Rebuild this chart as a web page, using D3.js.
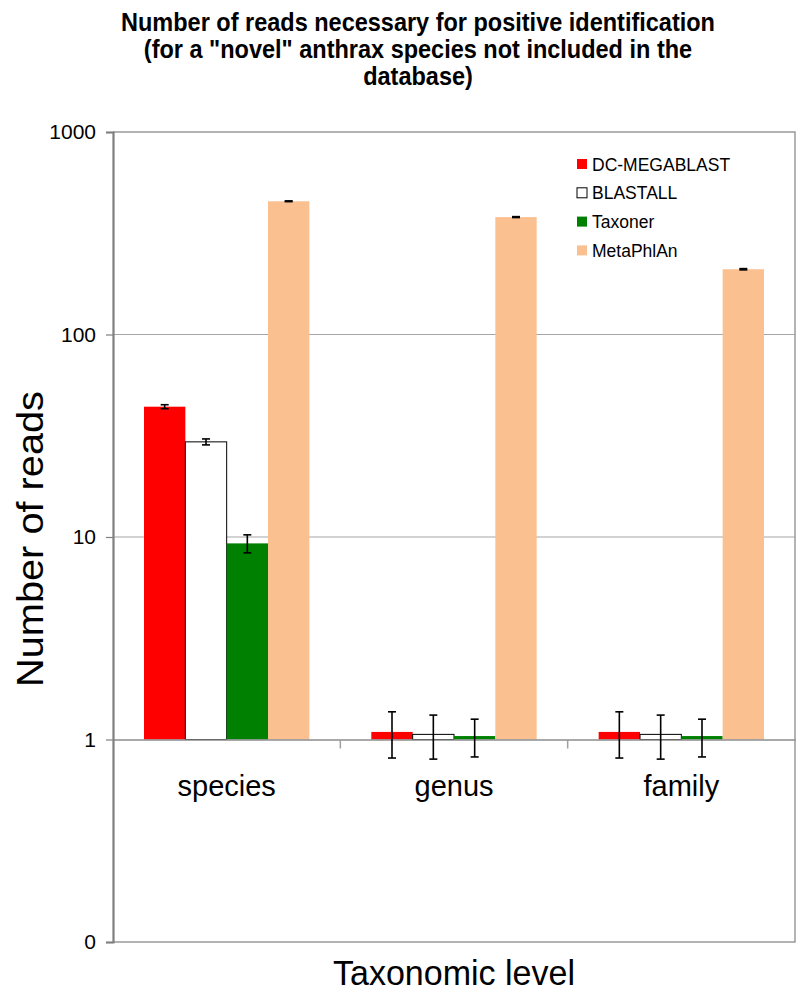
<!DOCTYPE html>
<html>
<head>
<meta charset="utf-8">
<script src="https://cdn.jsdelivr.net/npm/d3@7"></script>
<style>
  html, body { margin: 0; padding: 0; background: #ffffff; }
  svg { display: block; }
</style>
</head>
<body>
<svg id="chart" width="797" height="998"></svg>
<script>
// ---- data ----
const titleLines = [
  "Number of reads necessary for positive identification",
  "(for a \"novel\" anthrax species not included in the",
  "database)"
];
const categories = ["species", "genus", "family"];
const seriesNames = ["DC-MEGABLAST", "BLASTALL", "Taxoner", "MetaPhlAn"];
const dcMegablast = [44, 1.09, 1.09];
const dcMegablastErr = [1.0, 0.28, 0.28];
const blastall = [29.5, 1.06, 1.06];
const blastallErr = [1.0, 0.26, 0.26];
const taxoner = [9.3, 1.04, 1.04];
const taxonerErr = [0.95, 0.22, 0.22];
const metaphlan = [455, 380, 210];
const metaphlanErr = [2, 2, 1.5];
const yTickValues = [0.1, 1, 10, 100, 1000];
const yTickLabels = ["0", "1", "10", "100", "1000"];
const seriesColors = ["#ff0000", "#ffffff", "#008000", "#fac090"];
const yTitle = "Number of reads";
const xTitle = "Taxonomic level";

// ---- layout ----
const svg = d3.select("#chart");
const plot = { left: 113, right: 795, top: 132, bottom: 942 };
const FONT = "Liberation Sans, Arial, sans-serif";

const y = d3.scaleLog().domain([0.1, 1000]).range([plot.bottom, plot.top]);
const x0 = d3.scaleBand().domain(categories).range([plot.left, plot.right]).paddingInner(0).paddingOuter(0);
const x1 = d3.scaleBand().domain(seriesNames).range([0, x0.bandwidth()]).paddingInner(0).paddingOuter(0.75);

const values = [dcMegablast, blastall, taxoner, metaphlan];
const errors = [dcMegablastErr, blastallErr, taxonerErr, metaphlanErr];
const rows = [];
seriesNames.forEach((s, si) => {
  categories.forEach((c, ci) => {
    rows.push({ series: s, si, cat: c, v: values[si][ci], e: errors[si][ci] });
  });
});

// gridlines
svg.append("g").selectAll("line")
  .data([10, 100])
  .join("line")
  .attr("x1", plot.left).attr("x2", plot.right)
  .attr("y1", d => y(d)).attr("y2", d => y(d))
  .attr("stroke", "#a6a6a6").attr("stroke-width", 1.2);

// frame (top, right, bottom)
svg.append("path")
  .attr("d", `M${plot.left},${plot.top}H${plot.right}V${plot.bottom}H${plot.left}`)
  .attr("fill", "none").attr("stroke", "#9a9a9a").attr("stroke-width", 1.5);

// bars (baseline at 1)
const base = y(1);
svg.append("g").selectAll("rect")
  .data(rows)
  .join("rect")
  .attr("x", d => x0(d.cat) + x1(d.series))
  .attr("width", x1.bandwidth())
  .attr("y", d => Math.min(y(d.v), base))
  .attr("height", d => Math.abs(base - y(d.v)))
  .attr("fill", d => seriesColors[d.si])
  .attr("stroke", d => d.si === 1 ? "#000" : "none")
  .attr("stroke-width", 1);

// category axis at y = 1
const xAxis = d3.axisBottom(x0).tickSize(0).tickFormat(d => d);
const xg = svg.append("g").attr("transform", `translate(0,${base})`).call(xAxis);
xg.select(".domain").attr("stroke", "#8c8c8c").attr("stroke-width", 1.5);
xg.selectAll(".tick text")
  .attr("dy", null).attr("y", 56)
  .attr("font-family", FONT)
  .attr("font-size", 29).attr("fill", "#000");
// boundary tick marks
svg.append("g").selectAll("line")
  .data(categories.slice(1))
  .join("line")
  .attr("x1", d => x0(d)).attr("x2", d => x0(d))
  .attr("y1", base).attr("y2", base + 9)
  .attr("stroke", "#a0a0a0").attr("stroke-width", 1.5);

// error bars
const eg = svg.append("g").attr("stroke", "#000").attr("stroke-width", 1.6);
rows.forEach(d => {
  const cx = x0(d.cat) + x1(d.series) + x1.bandwidth() / 2;
  const yt = y(d.v + d.e), yb = y(d.v - d.e);
  eg.append("line").attr("x1", cx).attr("x2", cx).attr("y1", yt).attr("y2", yb);
  eg.append("line").attr("x1", cx - 4).attr("x2", cx + 4).attr("y1", yt).attr("y2", yt);
  eg.append("line").attr("x1", cx - 4).attr("x2", cx + 4).attr("y1", yb).attr("y2", yb);
});

// y axis
const yAxis = d3.axisLeft(y).tickValues(yTickValues)
  .tickFormat((d, i) => yTickLabels[i]).tickSize(7).tickPadding(10);
const yg = svg.append("g").attr("transform", `translate(${plot.left},0)`).call(yAxis);
yg.select(".domain").attr("stroke", "#7f7f7f").attr("stroke-width", 2.2);
yg.selectAll(".tick line").attr("stroke", "#7f7f7f").attr("stroke-width", 1.2);
yg.selectAll(".tick text")
  .attr("font-family", FONT)
  .attr("font-size", 21).attr("fill", "#000");

// legend
const lg = svg.append("g").attr("transform", "translate(577,164)");
seriesNames.forEach((s, i) => {
  const row = lg.append("g").attr("transform", `translate(0,${i * 28.8})`);
  row.append("rect").attr("x", 0).attr("y", -5).attr("width", 10).attr("height", 10)
    .attr("fill", seriesColors[i])
    .attr("stroke", i === 1 ? "#000" : "none").attr("stroke-width", 1);
  row.append("text").attr("x", 15).attr("y", 6.5).text(s)
    .attr("font-family", FONT)
    .attr("font-size", 17.5).attr("fill", "#000");
});

// title (condensed bold)
svg.append("g")
  .attr("transform", "translate(418,0) scale(0.94,1)")
  .selectAll("text")
  .data(titleLines)
  .join("text")
  .attr("x", 0).attr("y", (d, i) => 31 + i * 27)
  .attr("text-anchor", "middle")
  .attr("font-family", FONT)
  .attr("font-weight", "bold").attr("font-size", 25)
  .attr("fill", "#000")
  .text(d => d);

// axis titles
svg.append("text")
  .attr("transform", `translate(43,${(plot.top + plot.bottom) / 2 + 2}) rotate(-90)`)
  .attr("text-anchor", "middle")
  .attr("font-family", FONT)
  .attr("font-size", 37)
  .attr("textLength", 296).attr("lengthAdjust", "spacingAndGlyphs")
  .attr("fill", "#000")
  .text(yTitle);
svg.append("text")
  .attr("x", (plot.left + plot.right) / 2).attr("y", 985)
  .attr("text-anchor", "middle")
  .attr("font-family", FONT)
  .attr("font-size", 35)
  .attr("textLength", 242).attr("lengthAdjust", "spacingAndGlyphs")
  .attr("fill", "#000")
  .text(xTitle);
</script>
</body>
</html>
